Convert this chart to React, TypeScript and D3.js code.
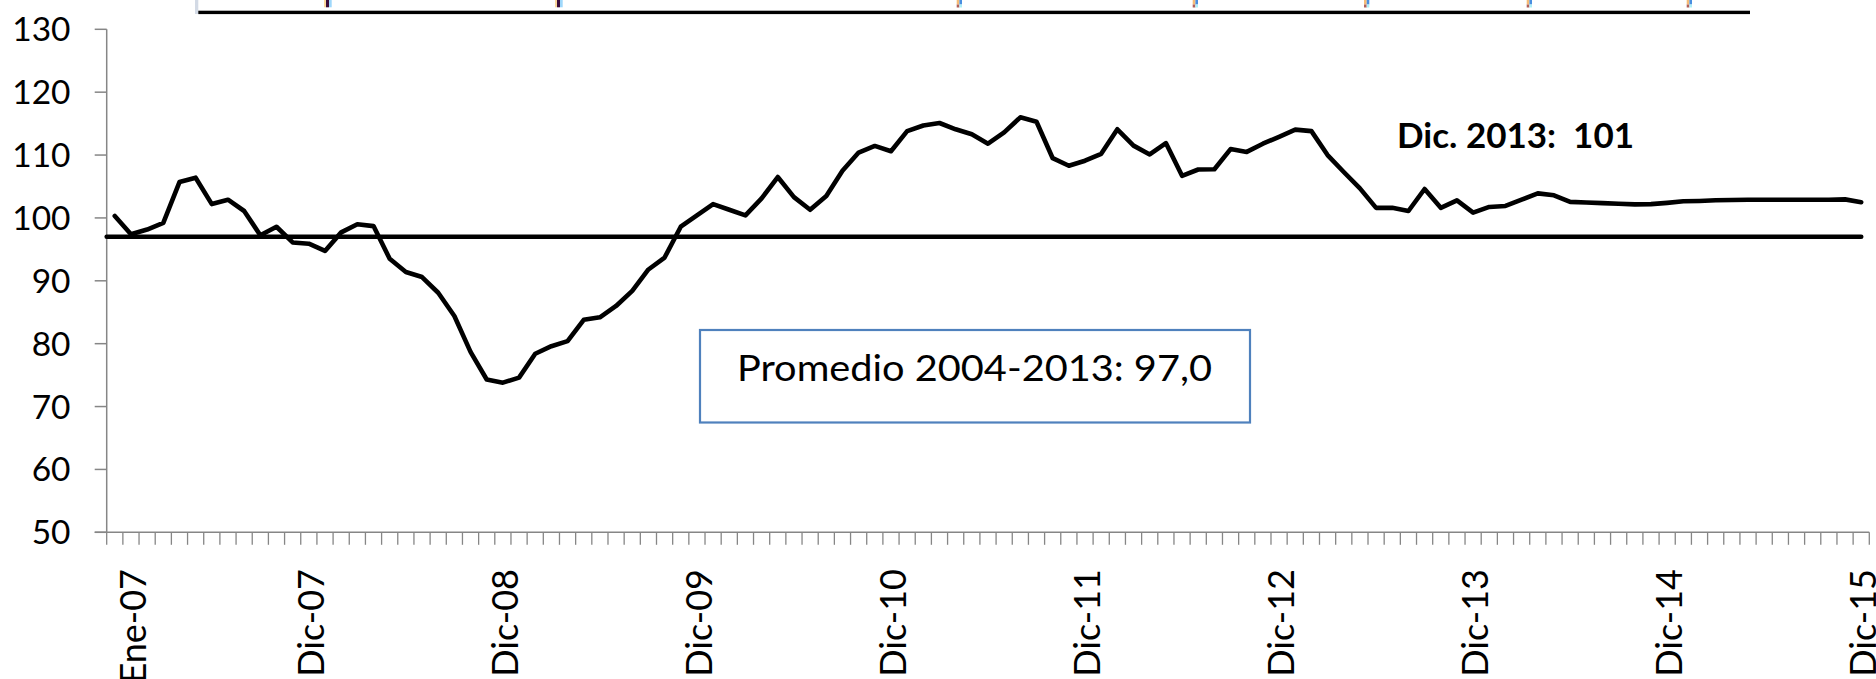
import React from "react";
import * as d3 from "d3";

// ---- data ----
const monthAbbr = ["Ene", "Feb", "Mar", "Abr", "May", "Jun", "Jul", "Ago", "Sep", "Oct", "Nov", "Dic"];
// categories: Dic-06 ... Dic-15 (monthly)
const categories: string[] = ["Dic-06"];
for (let yr = 7; yr <= 15; yr++) {
  for (let m = 0; m < 12; m++) categories.push(`${monthAbbr[m]}-${String(yr).padStart(2, "0")}`);
}
const tickLabels = ["Ene-07", "Dic-07", "Dic-08", "Dic-09", "Dic-10", "Dic-11", "Dic-12", "Dic-13", "Dic-14", "Dic-15"];

const indexValues = [
  100.3, 97.4, 98.15, 99.2, 105.7, 106.4, 102.2, 102.9, 101.1, 97.25,
  98.6, 96.1, 95.9, 94.75, 97.7, 99.0, 98.7, 93.5, 91.4, 90.6,
  88.1, 84.4, 78.7, 74.3, 73.8, 74.6, 78.4, 79.6, 80.4, 83.8,
  84.2, 86.0, 88.4, 91.8, 93.7, 98.6, 100.4, 102.2, 101.3, 100.4,
  103.1, 106.5, 103.3, 101.3, 103.5, 107.5, 110.4, 111.45, 110.6, 113.8,
  114.7, 115.1, 114.1, 113.3, 111.8, 113.6, 116.0, 115.3, 109.5, 108.3,
  109.1, 110.2, 114.1, 111.5, 110.1, 111.9, 106.7, 107.7, 107.75, 110.95,
  110.5, 111.8, 112.9, 114.05, 113.8, 110.0, 107.3, 104.7, 101.6, 101.6,
  101.1, 104.6, 101.6, 102.8, 100.85, 101.75, 101.9, 102.9, 103.9, 103.6,
  102.55, 102.45, 102.35, 102.25, 102.15, 102.2, 102.4, 102.65, 102.7, 102.8,
  102.85, 102.9, 102.9, 102.9, 102.9, 102.9, 102.9, 102.95, 102.5,
];
const averageValue = 97.0;
const yTicks = [50, 60, 70, 80, 90, 100, 110, 120, 130];
const boxText = "Promedio 2004-2013: 97,0";
const noteText = "Dic. 2013:  101";

// ---- layout ----
const W = 1876;
const H = 679;
const FONT = "Lato, 'Open Sans', sans-serif";

export default function App() {
  const x = d3.scaleBand<number>().domain(d3.range(categories.length)).range([106.7, 1869.3]);
  const bw = x.bandwidth();
  const cx = (i: number) => (x(i) as number) + bw / 2;
  const y = d3.scaleLinear().domain([50, 130]).range([532.3, 29.3]);

  const line = d3
    .line<number>()
    .x((_, i) => cx(i))
    .y((d) => y(d));

  const x0 = x.range()[0];
  const x1 = x.range()[1];
  const axisY = y(50);
  const tickXs = [...d3.range(categories.length).map((i) => x(i) as number), x1];

  // decorative remnants of a cropped element above the chart
  const markA = [324, 555];
  const markB = [956.7, 1192.7, 1364, 1526.7, 1686.7];

  return (
    <svg
      width={W}
      height={H}
      style={{ position: "absolute", left: 0, top: 0, background: "#fff" }}
      fontFamily={FONT}
    >
      <rect x={0} y={0} width={W} height={H} fill="#fff" />

      {/* top remnants */}
      <rect x={195} y={0} width={3.3} height={14} fill="#d3dae5" />
      <rect x={198.3} y={10.7} width={1750 - 198.3} height={3.4} fill="#000" />
      {markA.map((mx) => (
        <g key={"a" + mx}>
          <rect x={mx} y={0} width={2} height={7.3} fill="#fbd89c" />
          <rect x={mx + 2} y={0} width={3} height={7.3} fill="#3b0c3b" />
          <rect x={mx + 5} y={0} width={2.7} height={7.3} fill="#9fd8fb" />
        </g>
      ))}
      {markB.map((mx) => (
        <g key={"b" + mx}>
          <rect x={mx} y={0} width={2.7} height={4.5} fill="#f6bc76" />
          <rect x={mx} y={4.5} width={2.7} height={3} fill="#b0605a" />
          <rect x={mx + 2.7} y={0} width={2.6} height={4.5} fill="#4a8fe0" />
          <rect x={mx + 2.7} y={4.5} width={2.6} height={3} fill="#aef0f8" />
        </g>
      ))}

      {/* y axis */}
      <line x1={x0} x2={x0} y1={y(130)} y2={axisY} stroke="#868686" strokeWidth={1.5} />
      {yTicks.map((t) => (
        <g key={t}>
          <line x1={x0 - 12} x2={x0} y1={y(t)} y2={y(t)} stroke="#868686" strokeWidth={1.5} />
          <text x={70.5} y={y(t)} dy="0.36em" textAnchor="end" fontSize={33.5} fill="#000">
            {t}
          </text>
        </g>
      ))}

      {/* x axis */}
      <line x1={x0 - 12} x2={x1} y1={axisY} y2={axisY} stroke="#868686" strokeWidth={1.5} />
      {tickXs.map((tx, i) => (
        <line key={i} x1={tx} x2={tx} y1={axisY} y2={axisY + 12.5} stroke="#868686" strokeWidth={1.3} />
      ))}
      {categories.map((c, i) =>
        tickLabels.includes(c) ? (
          <text
            key={c}
            transform={`translate(${cx(i) + 14.8},${569}) rotate(-90)`}
            textAnchor="end"
            fontSize={36}
            fill="#000"
          >
            {c}
          </text>
        ) : null
      )}

      {/* average line */}
      <line
        x1={x0}
        x2={cx(categories.length - 1)}
        y1={y(averageValue)}
        y2={y(averageValue)}
        stroke="#000"
        strokeWidth={4.6}
        strokeLinecap="round"
      />

      {/* series */}
      <path
        d={line(indexValues) || ""}
        fill="none"
        stroke="#000"
        strokeWidth={4.6}
        strokeLinejoin="round"
        strokeLinecap="round"
      />

      {/* annotation box */}
      <rect x={700} y={330} width={550} height={92.5} fill="#fff" stroke="#4f81bd" strokeWidth={2.2} />
      <text x={737} y={381} fontSize={37.5} textLength={475} lengthAdjust="spacingAndGlyphs" fill="#000">
        {boxText}
      </text>

      {/* note */}
      <text
        x={1397}
        y={148.3}
        fontSize={35}
        fontWeight="bold"
        textLength={237}
        lengthAdjust="spacingAndGlyphs"
        fill="#000"
        style={{ whiteSpace: "pre" }}
      >
        {noteText}
      </text>
    </svg>
  );
}
